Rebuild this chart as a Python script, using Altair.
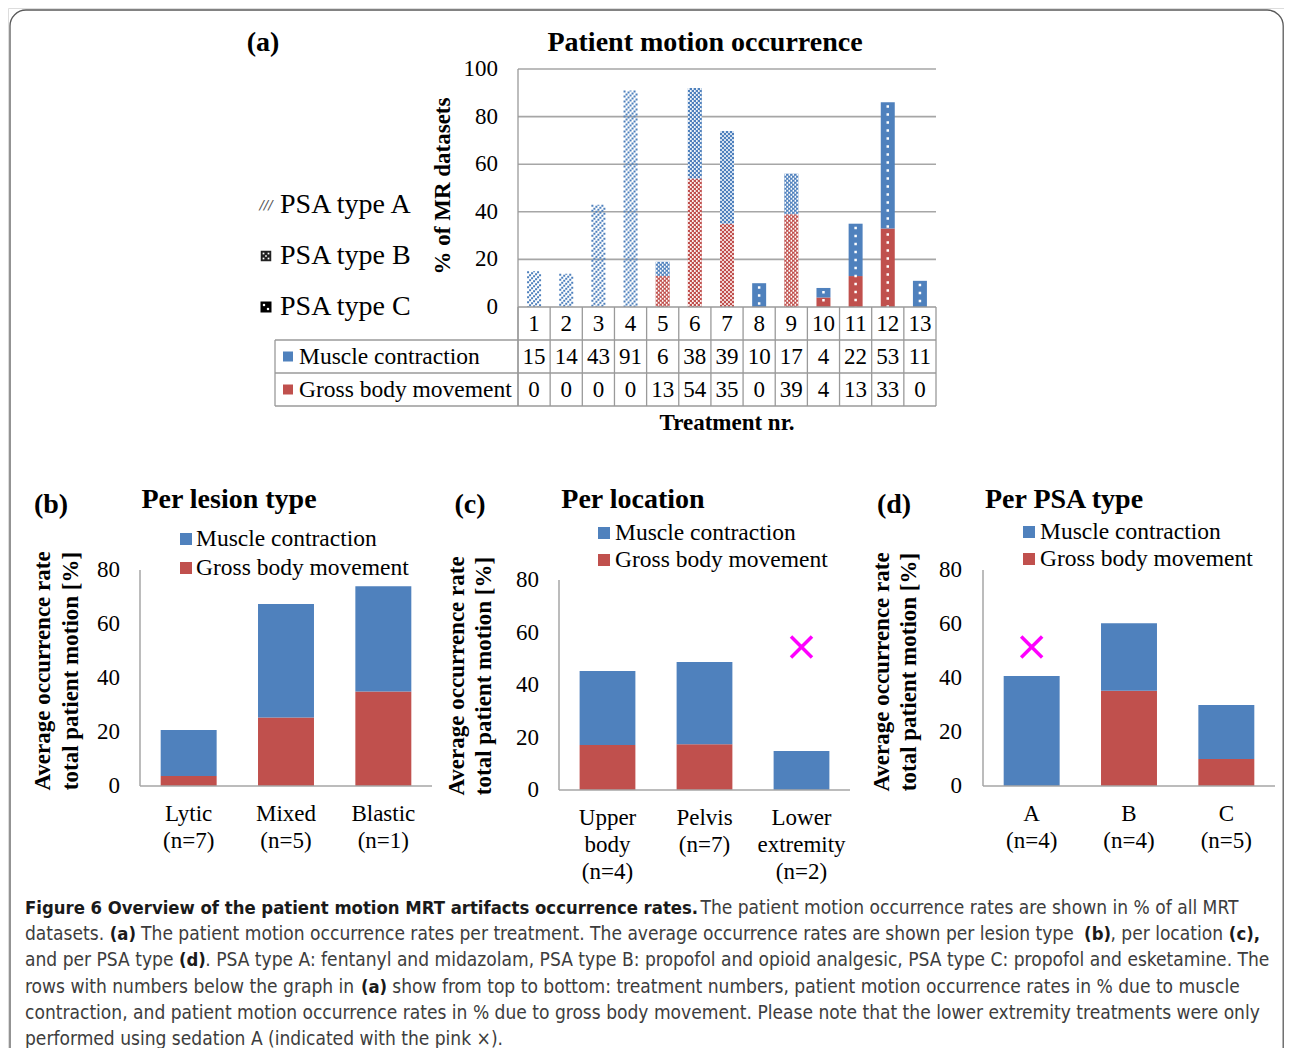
import altair as alt
import pandas as pd

OFF = 8


def P(v):
    return v - OFF


BLUE = "#4F81BD"
RED = "#C0504D"
GRID = "#A6A6A6"
SERIF = "Liberation Serif"
CAP_FONT = "DejaVu Sans Condensed, DejaVu Sans, sans-serif"

# ---------------- data: panel (a) ----------------
treatments = [str(t) for t in range(1, 14)]
muscle = [15, 14, 43, 91, 6, 38, 39, 10, 17, 4, 22, 53, 11]
gross = [0, 0, 0, 0, 13, 54, 35, 0, 39, 4, 13, 33, 0]
psa_type = ["A", "A", "A", "A", "B", "B", "B", "C", "B", "C", "C", "C", "C"]
a_ticks = [0, 20, 40, 60, 80, 100]
a_grid = [20, 40, 60, 80, 100]
psa_legend = ["PSA type A", "PSA type B", "PSA type C"]
row_labels = ["Muscle contraction", "Gross body movement"]
cell_edges = list(range(14))

# ---------------- data: panels (b)-(d) ----------------
lesion_cats = ["Lytic", "Mixed", "Blastic"]
lesion_lines = [["Lytic", "(n=7)"], ["Mixed", "(n=5)"], ["Blastic", "(n=1)"]]
lesion_muscle = [17.0, 42.0, 39.0]
lesion_gross = [3.7, 25.4, 35.0]

loc_cats = ["Upper body", "Pelvis", "Lower extremity"]
loc_lines = [["Upper", "body", "(n=4)"], ["Pelvis", "(n=7)"], ["Lower", "extremity", "(n=2)"]]
loc_muscle = [28.2, 31.4, 14.9]
loc_gross = [17.1, 17.4, 0.0]
loc_marker_cat = ["Lower extremity"]
loc_marker_val = [54.5]

psa_cats = ["A", "B", "C"]
psa_lines = [["A", "(n=4)"], ["B", "(n=4)"], ["C", "(n=5)"]]
psa_muscle = [40.75, 25.0, 20.0]
psa_gross = [0.0, 35.25, 10.0]
psa_marker_cat = ["A"]
psa_marker_val = [51.5]

bottom_ticks = [0, 20, 40, 60, 80]
legend_labels = ["Muscle contraction", "Gross body movement"]

# caption: lines of (text, bold, space-before)
caption = [
    [("Figure 6 Overview of the patient motion MRT artifacts occurrence rates.", True, False),
     ("The patient motion occurrence rates are shown in % of all MRT", False, True)],
    [("datasets.", False, False), ("(a)", True, True),
     ("The patient motion occurrence rates per treatment. The average occurrence rates are shown per lesion type",
      False, True), ("(b)", True, True), (", per location", False, False), ("(c),", True, True)],
    [("and per PSA type", False, False), ("(d)", True, True),
     (". PSA type A: fentanyl and midazolam, PSA type B: propofol and opioid analgesic, PSA type C: propofol and esketamine. The",
      False, False)],
    [("rows with numbers below the graph in", False, False), ("(a)", True, True),
     ("show from top to bottom: treatment numbers, patient motion occurrence rates in % due to muscle", False, True)],
    [("contraction, and patient motion occurrence rates in % due to gross body movement. Please note that the lower extremity treatments were only",
      False, False)],
    [("performed using sedation A (indicated with the pink \u00d7).", False, False)],
]

# approximate advance widths (DejaVu Sans, units of 1/2048 em) for caption layout
_W = {" ": 651, "%": 1946, "(": 799, ")": 799, ",": 651, "-": 739, ".": 651, ":": 690, "=": 1716,
      "\u00d7": 1716,
      "A": 1401, "B": 1405, "C": 1430, "D": 1577, "E": 1294, "F": 1178, "G": 1587, "H": 1540, "I": 604,
      "M": 1767, "N": 1532, "O": 1612, "P": 1235, "R": 1423, "S": 1300, "T": 1251,
      "a": 1255, "b": 1300, "c": 1126, "d": 1300, "e": 1260, "f": 721, "g": 1300, "h": 1298, "i": 569,
      "j": 569, "k": 1186, "l": 569, "m": 1995, "n": 1298, "o": 1253, "p": 1300, "q": 1300, "r": 842,
      "s": 1067, "t": 803, "u": 1298, "v": 1212, "w": 1675, "x": 1212, "y": 1212, "z": 1075}
COND = 0.885


def em_width(s, bold):
    w = sum(_W.get(c, 1303) for c in s) / 2048.0 * COND
    return w * (1.13 * 1.012 if bold else 1.018)


# font sizes fitted so that reference line widths are matched
CAP_BOLD = 670.0 / em_width(caption[0][0][0], True)
CAP_REG = 1241.0 / em_width(caption[4][0][0], False)

ONE = pd.DataFrame({"k": [0]})
layers = []


def text_layer(s, x, y, size=23, bold=False, align="center", angle=0, color="black",
               font=SERIF, baseline="middle"):
    kw = dict(fontSize=size, font=font, align=align, baseline=baseline, color=color)
    if bold:
        kw["fontWeight"] = "bold"
    if angle:
        kw["angle"] = angle
    return alt.Chart(pd.DataFrame({"s": [s]})).mark_text(**kw).encode(
        text="s:N", x=alt.value(P(x)), y=alt.value(P(y)))


def hline(x1, x2, y, color=GRID, w=1.5):
    return alt.Chart(ONE).mark_rule(color=color, strokeWidth=w).encode(
        x=alt.value(P(x1)), x2=alt.value(P(x2)), y=alt.value(P(y)))


def vline(x, y1, y2, color=GRID, w=1.5):
    return alt.Chart(ONE).mark_rule(color=color, strokeWidth=w).encode(
        x=alt.value(P(x)), y=alt.value(P(y1)), y2=alt.value(P(y2)))


# frame
layers.append(alt.Chart(ONE).mark_rect(fillOpacity=0, stroke="#5a5a5a", strokeWidth=1.3,
                                       cornerRadius=16).encode(
    x=alt.value(P(10)), x2=alt.value(1275.2), y=alt.value(P(10)), y2=alt.value(P(1120))))

# ---------------- panel (a) ----------------
df_a = pd.DataFrame({"t": treatments, "muscle": muscle, "gross": gross, "psa": psa_type})
df_a["total"] = df_a["muscle"] + df_a["gross"]
df_a["zero"] = 0

xa = alt.Scale(domain=treatments, range=[P(518), P(936)], paddingInner=0.565, paddingOuter=0.2825)
ya = alt.Scale(domain=[0, 100], range=[P(307), P(69)], nice=False, zero=False)
XA = alt.X("t:N", scale=xa, axis=None)

layers.append(alt.Chart(pd.DataFrame({"v": a_grid})).mark_rule(color=GRID, strokeWidth=1.6).encode(
    y=alt.Y("v:Q", scale=ya, axis=None), x=alt.value(P(518)), x2=alt.value(P(936))))
layers.append(alt.Chart(pd.DataFrame({"v": a_ticks})).mark_text(
    font=SERIF, fontSize=23, align="right", baseline="middle", color="black").encode(
    y=alt.Y("v:Q", scale=ya, axis=None), x=alt.value(P(498)), text="v:Q"))

layers.append(alt.Chart(df_a).transform_filter("datum.psa != 'A'").mark_bar(color=RED).encode(
    x=XA, y=alt.Y("gross:Q", scale=ya, axis=None), y2="zero:Q"))
layers.append(alt.Chart(df_a).transform_filter("datum.psa != 'A'").mark_bar(color=BLUE).encode(
    x=XA, y=alt.Y("total:Q", scale=ya, axis=None), y2="gross:Q"))

# pattern A: diagonal hatch
for k in range(7):
    layers.append(alt.Chart(df_a).transform_filter("datum.psa == 'A'").mark_rule(
        color=BLUE, strokeWidth=2, strokeDash=[2, 3], strokeDashOffset=2 * k, xOffset=-6 + 2 * k).encode(
        x=XA, y=alt.Y("total:Q", scale=ya, axis=None), y2="zero:Q"))
# pattern B: checker of white dots
for k in range(7):
    layers.append(alt.Chart(df_a).transform_filter("datum.psa == 'B'").mark_rule(
        color="white", strokeWidth=1.5, strokeDash=[2, 2], strokeDashOffset=2 * (k % 2),
        xOffset=-6 + 2 * k).encode(
        x=XA, y=alt.Y("total:Q", scale=ya, axis=None), y2="zero:Q"))
# pattern C: column of white dots
layers.append(alt.Chart(df_a).transform_filter("datum.psa == 'C'").mark_rule(
    color="white", strokeWidth=2.5, strokeDash=[2.5, 5.5], strokeDashOffset=5).encode(
    x=XA, y=alt.Y("total:Q", scale=ya, axis=None), y2="zero:Q"))

# axis / table lines
TL = "#9a9a9a"
layers.append(vline(518, 69, 406, TL, 1.3))
layers.append(hline(518, 936, 307, TL, 1.5))
for yy in [340, 373, 406]:
    layers.append(hline(275, 936, yy, TL, 1.3))
layers.append(vline(275, 340, 406, TL, 1.3))
xe = alt.Scale(domain=[0, 13], range=[P(518), P(936)], nice=False, zero=False)
layers.append(alt.Chart(pd.DataFrame({"e": cell_edges})).mark_rule(color=TL, strokeWidth=1.3).encode(
    x=alt.X("e:Q", scale=xe, axis=None), y=alt.value(P(307)), y2=alt.value(P(406))))

rows = []
for i, t in enumerate(treatments):
    rows.append({"t": t, "r": 0, "s": t})
    rows.append({"t": t, "r": 1, "s": str(muscle[i])})
    rows.append({"t": t, "r": 2, "s": str(gross[i])})
yr = alt.Scale(domain=[0, 2], range=[P(323.5), P(389.5)], nice=False, zero=False)
layers.append(alt.Chart(pd.DataFrame(rows)).mark_text(
    font=SERIF, fontSize=23, align="center", baseline="middle", color="black").encode(
    x=XA, y=alt.Y("r:Q", scale=yr, axis=None), text="s:N"))
df_rl = pd.DataFrame({"r": [1, 2], "s": row_labels, "c": [BLUE, RED]})
layers.append(alt.Chart(df_rl).mark_square(size=100, opacity=1).encode(
    y=alt.Y("r:Q", scale=yr, axis=None), x=alt.value(P(288)),
    color=alt.Color("c:N", scale=None)))
layers.append(alt.Chart(df_rl).mark_text(
    font=SERIF, fontSize=23.5, align="left", baseline="middle", color="black").encode(
    y=alt.Y("r:Q", scale=yr, axis=None), x=alt.value(P(299)), text="s:N"))

# PSA legend
yl = alt.Scale(domain=[0, 2], range=[P(205), P(307)], nice=False, zero=False)
df_pl = pd.DataFrame({"r": [0, 1, 2], "s": psa_legend})
layers.append(alt.Chart(df_pl).mark_text(
    font=SERIF, fontSize=28, align="left", baseline="middle", color="black").encode(
    y=alt.Y("r:Q", scale=yl, axis=None), x=alt.value(P(280)), text="s:N"))
layers.append(alt.Chart(df_pl).transform_filter("datum.r == 0").mark_text(
    font="DejaVu Sans", fontSize=13, fontStyle="italic", align="center", baseline="middle",
    color="#555").encode(
    y=alt.Y("r:Q", scale=yl, axis=None), x=alt.value(P(266)), text=alt.value("///")))
layers.append(alt.Chart(df_pl).transform_filter("datum.r == 1").mark_square(
    size=110, color="#222", opacity=1).encode(
    y=alt.Y("r:Q", scale=yl, axis=None), x=alt.value(P(266))))
for dx, dy in [(-2.5, -2.5), (2.5, 2.5), (-2.5, 2.5), (2.5, -2.5), (0, 0)]:
    layers.append(alt.Chart(df_pl).transform_filter("datum.r == 1").mark_square(
        size=3, color="white", opacity=1, xOffset=dx, yOffset=dy).encode(
        y=alt.Y("r:Q", scale=yl, axis=None), x=alt.value(P(266))))
layers.append(alt.Chart(df_pl).transform_filter("datum.r == 2").mark_square(
    size=121, color="black", opacity=1).encode(
    y=alt.Y("r:Q", scale=yl, axis=None), x=alt.value(P(266))))
for dx, dy in [(-2, -2), (2, 2)]:
    layers.append(alt.Chart(df_pl).transform_filter("datum.r == 2").mark_square(
        size=5, color="white", opacity=1, xOffset=dx, yOffset=dy).encode(
        y=alt.Y("r:Q", scale=yl, axis=None), x=alt.value(P(266))))

layers.append(text_layer("(a)", 263, 43, 28, bold=True))
layers.append(text_layer("Patient motion occurrence", 705, 43, 28, bold=True))
layers.append(text_layer("% of MR datasets", 443, 186, 23, bold=True, angle=270))
layers.append(text_layer("Treatment nr.", 727, 423, 23, bold=True))


# ---------------- panels (b)-(d) ----------------
def bottom_panel(cats, lines, mus, grs, xr, y0, y80, tick_x, sq_x, txt_x, leg_y, title, title_x, tag, tag_x,
                 yt_x, yt_y, lab_y0, mk_cat=None, mk_val=None):
    out = []
    df = pd.DataFrame({"c": cats, "m": mus, "g": grs})
    df["top"] = df["m"] + df["g"]
    df["zero"] = 0.0
    xs = alt.Scale(domain=cats, range=[P(xr[0]), P(xr[1])], paddingInner=0.425, paddingOuter=0.2125)
    ys = alt.Scale(domain=[0, 80], range=[P(y0), P(y80)], nice=False, zero=False)
    XS = alt.X("c:N", scale=xs, axis=None)
    out.append(alt.Chart(df).mark_bar(color=RED).encode(
        x=XS, y=alt.Y("g:Q", scale=ys, axis=None), y2="zero:Q"))
    out.append(alt.Chart(df).mark_bar(color=BLUE).encode(
        x=XS, y=alt.Y("top:Q", scale=ys, axis=None), y2="g:Q"))
    out.append(vline(xr[0], y80, y0, GRID, 1.5))
    out.append(hline(xr[0], xr[1], y0, GRID, 1.5))
    out.append(alt.Chart(pd.DataFrame({"v": bottom_ticks})).mark_text(
        font=SERIF, fontSize=23, align="right", baseline="middle", color="black").encode(
        y=alt.Y("v:Q", scale=ys, axis=None), x=alt.value(P(tick_x)), text="v:Q"))
    rr = []
    for c, ls in zip(cats, lines):
        for j, s in enumerate(ls):
            rr.append({"c": c, "j": j, "s": s})
    yj = alt.Scale(domain=[0, 1], range=[P(lab_y0), P(lab_y0 + 27)], nice=False, zero=False)
    out.append(alt.Chart(pd.DataFrame(rr)).mark_text(
        font=SERIF, fontSize=23, align="center", baseline="middle", color="black").encode(
        x=XS, y=alt.Y("j:Q", scale=yj, axis=None), text="s:N"))
    yg = alt.Scale(domain=[0, 1], range=[P(leg_y[0]), P(leg_y[1])], nice=False, zero=False)
    dl = pd.DataFrame({"j": [0, 1], "s": legend_labels, "col": [BLUE, RED]})
    out.append(alt.Chart(dl).mark_square(size=144, opacity=1).encode(
        x=alt.value(P(sq_x)), y=alt.Y("j:Q", scale=yg, axis=None), color=alt.Color("col:N", scale=None)))
    out.append(alt.Chart(dl).mark_text(
        font=SERIF, fontSize=23.5, align="left", baseline="middle", color="black").encode(
        x=alt.value(P(txt_x)), y=alt.Y("j:Q", scale=yg, axis=None), text="s:N"))
    if mk_cat is not None:
        dm = pd.DataFrame({"c": mk_cat, "v": mk_val})
        out.append(alt.Chart(dm).mark_point(
            shape="M-1,-1L1,1M1,-1L-1,1", size=440, filled=False, stroke="#FF00FF", strokeWidth=3.5,
            opacity=1).encode(x=XS, y=alt.Y("v:Q", scale=ys, axis=None)))
    out.append(text_layer(tag, tag_x, 505, 28, bold=True))
    out.append(text_layer(title, title_x, 500, 28, bold=True))
    out.append(text_layer("Average occurrence rate", yt_x[0], yt_y, 23, bold=True, angle=270))
    out.append(text_layer("total patient motion [%]", yt_x[1], yt_y, 23, bold=True, angle=270))
    return out


layers += bottom_panel(lesion_cats, lesion_lines, lesion_muscle, lesion_gross, (140, 432), 786, 570, 120,
                       186, 196, (539, 568), "Per lesion type", 229, "(b)", 51, (43, 71), 671, 814)
layers += bottom_panel(loc_cats, loc_lines, loc_muscle, loc_gross, (559, 850), 790, 580, 539,
                       604, 615, (533, 560), "Per location", 633, "(c)", 470, (457, 484), 676, 818,
                       loc_marker_cat, loc_marker_val)
layers += bottom_panel(psa_cats, psa_lines, psa_muscle, psa_gross, (983, 1275), 786, 570, 962,
                       1029, 1040, (532, 559), "Per PSA type", 1064, "(d)", 894, (882, 909), 672, 814,
                       psa_marker_cat, psa_marker_val)

# ---------------- caption (segments laid out one after another) ----------------
for li, segs in enumerate(caption):
    yy = 908.0 + li * 26.2
    xx = 25.0
    for s, b, sp in segs:
        if sp:
            xx += em_width(" ", False) * CAP_REG
        size = CAP_BOLD if b else CAP_REG
        layers.append(text_layer(s, xx, yy, round(size, 2), bold=b, align="left", font=CAP_FONT,
                                 color="#1a1a1a" if b else "#3d3d3d"))
        xx += em_width(s, b) * size

chart = alt.layer(*layers).resolve_scale(x="independent", y="independent").properties(
    width=1276, height=1040, autosize="none", padding=0
).configure_view(strokeWidth=0).configure(background="white")

chart.save("out.html", embed_options={"renderer": "svg", "actions": False})
